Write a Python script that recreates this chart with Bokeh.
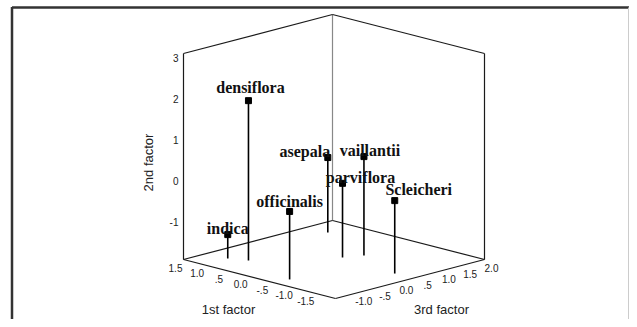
from bokeh.plotting import figure
from bokeh.models import Range1d, ColumnDataSource
from bokeh.embed import file_html
from bokeh.resources import INLINE
from bokeh.core.properties import value

# ---- data ----
species = ["densiflora", "indica", "officinalis", "asepala", "vaillantii", "parviflora", "Scleicheri"]
factor1 = [0.70, 1.03, -0.62, 1.02, -0.42, -0.26, -1.58]
factor2 = [1.98, -1.32, -0.25, -0.08, 0.50, -0.10, -0.13]
factor3 = [-0.79, -0.94, -1.17, 1.40, 0.78, 0.44, 0.32]

f1_ticks = [1.5, 1.0, 0.5, 0.0, -0.5, -1.0, -1.5]
f1_tick_labels = ["1.5", "1.0", ".5", "0.0", "-.5", "-1.0", "-1.5"]
f2_ticks = [3, 2, 1, 0, -1]
f2_tick_labels = ["3", "2", "1", "0", "-1"]
f3_ticks = [-1.0, -0.5, 0.0, 0.5, 1.0, 1.5, 2.0]
f3_tick_labels = ["-1.0", "-.5", "0.0", ".5", "1.0", "1.5", "2.0"]

# axis extents of the 3-D box
F1_MIN, F1_MAX = -2.0, 1.5
F2_MIN, F2_MAX = -1.9, 3.1
F3_MIN, F3_MAX = -1.5, 2.0

# ---- projection (view coordinates in pixels) ----
ORIGIN = (335.0, 298.0)       # front-bottom corner of box
A_VEC = (-152.0, -39.0)       # along 1st factor (full range)
B_VEC = (149.0, -39.0)        # along 3rd factor (full range)
HEIGHT = 206.0                # vertical extent of 2nd factor


def proj(f1, f2, f3):
    a = (f1 - F1_MIN) / (F1_MAX - F1_MIN)
    b = (f3 - F3_MIN) / (F3_MAX - F3_MIN)
    c = (f2 - F2_MIN) / (F2_MAX - F2_MIN)
    x = ORIGIN[0] + a * A_VEC[0] + b * B_VEC[0]
    y = ORIGIN[1] + a * A_VEC[1] + b * B_VEC[1] - c * HEIGHT
    return x, y


W, H = 629, 319
p = figure(width=W, height=H, output_backend="svg", toolbar_location=None,
           x_range=Range1d(0, W), y_range=Range1d(H, 0),
           min_border=0, outline_line_color=None)
p.axis.visible = False
p.grid.visible = False
p.background_fill_color = "white"
p.border_fill_color = "white"

# outer frame
p.line([11.5, 11.5], [6.5, 330], line_color="#333333", line_width=2.5)
p.line([11.5, 636], [7, 7], line_color="#333333", line_width=2.5)
p.line([628, 628], [7, 330], line_color="#cccccc", line_width=1)

# box
L = (F1_MAX, F3_MIN)
Fr = (F1_MIN, F3_MIN)
R = (F1_MIN, F3_MAX)
B = (F1_MAX, F3_MAX)


def seg(c1, z1, c2, z2, color="#1a1a1a", w=1.2):
    x1, y1 = proj(c1[0], z1, c1[1])
    x2, y2 = proj(c2[0], z2, c2[1])
    p.line([x1, x2], [y1, y2], line_color=color, line_width=w)


seg(B, F2_MIN, B, F2_MAX, color="#888888", w=1.2)
seg(L, F2_MIN, B, F2_MIN)
seg(B, F2_MIN, R, F2_MIN)
seg(L, F2_MIN, Fr, F2_MIN)
seg(Fr, F2_MIN, R, F2_MIN)
seg(L, F2_MIN, L, F2_MAX)
seg(R, F2_MIN, R, F2_MAX)
seg(L, F2_MAX, B, F2_MAX)
seg(B, F2_MAX, R, F2_MAX)

# drop lines + markers
mx, my, fx, fy = [], [], [], []
for a, b, c in zip(factor1, factor2, factor3):
    x, y = proj(a, b, c)
    x0, y0 = proj(a, F2_MIN, c)
    mx.append(x); my.append(y); fx.append(x0); fy.append(y0)
p.segment(x0=mx, y0=my, x1=fx, y1=fy, line_color="black", line_width=1.6)
p.scatter(mx, my, marker="square", size=6, fill_color="black", line_color="black")

# point labels (offsets are layout only)
LABEL_DX = [2, 0, 0, -23, 6, 18, 24]
LABEL_DY = [-13, -6, -10, -6, -6, -6, -11]
lsrc = ColumnDataSource(dict(x=[x + d for x, d in zip(mx, LABEL_DX)],
                             y=[y + d for y, d in zip(my, LABEL_DY)],
                             t=species))
p.text(x="x", y="y", text="t", source=lsrc, text_font=value("Liberation Serif"),
       text_font_style="bold", text_font_size="16px", text_align="center",
       text_baseline="alphabetic", text_color="#111111")

# tick labels
tick_font = value("Liberation Sans")
xs, ys = [], []
for t in f2_ticks:
    x, y = proj(F1_MAX, t, F3_MIN)
    xs.append(x - 5); ys.append(y)
p.text(x=xs, y=ys, text=f2_tick_labels, text_font=tick_font, text_font_size="10px",
       text_align="right", text_baseline="middle", text_color="#222222")

xs, ys = [], []
for t in f1_ticks:
    x, y = proj(t, F2_MIN, F3_MIN)
    xs.append(x - 8); ys.append(y + 8)
p.text(x=xs, y=ys, text=f1_tick_labels, text_font=tick_font, text_font_size="10px",
       text_align="center", text_baseline="middle", text_color="#222222")

xs, ys = [], []
for t in f3_ticks:
    x, y = proj(F1_MIN, F2_MIN, t)
    xs.append(x + 7); ys.append(y + 8.5)
p.text(x=xs, y=ys, text=f3_tick_labels, text_font=tick_font, text_font_size="10px",
       text_align="center", text_baseline="middle", text_color="#222222")

# axis titles
p.text(x=[228], y=[309], text=["1st factor"], text_font=tick_font, text_font_size="13px",
       text_align="center", text_baseline="middle", text_color="#222222")
p.text(x=[441], y=[309], text=["3rd factor"], text_font=tick_font, text_font_size="13px",
       text_align="center", text_baseline="middle", text_color="#222222")
p.text(x=[148], y=[162], text=["2nd factor"], text_font=tick_font, text_font_size="13px",
       text_align="center", text_baseline="middle", angle=1.5708, text_color="#222222")

open("out.html", "w").write(file_html(p, INLINE))
